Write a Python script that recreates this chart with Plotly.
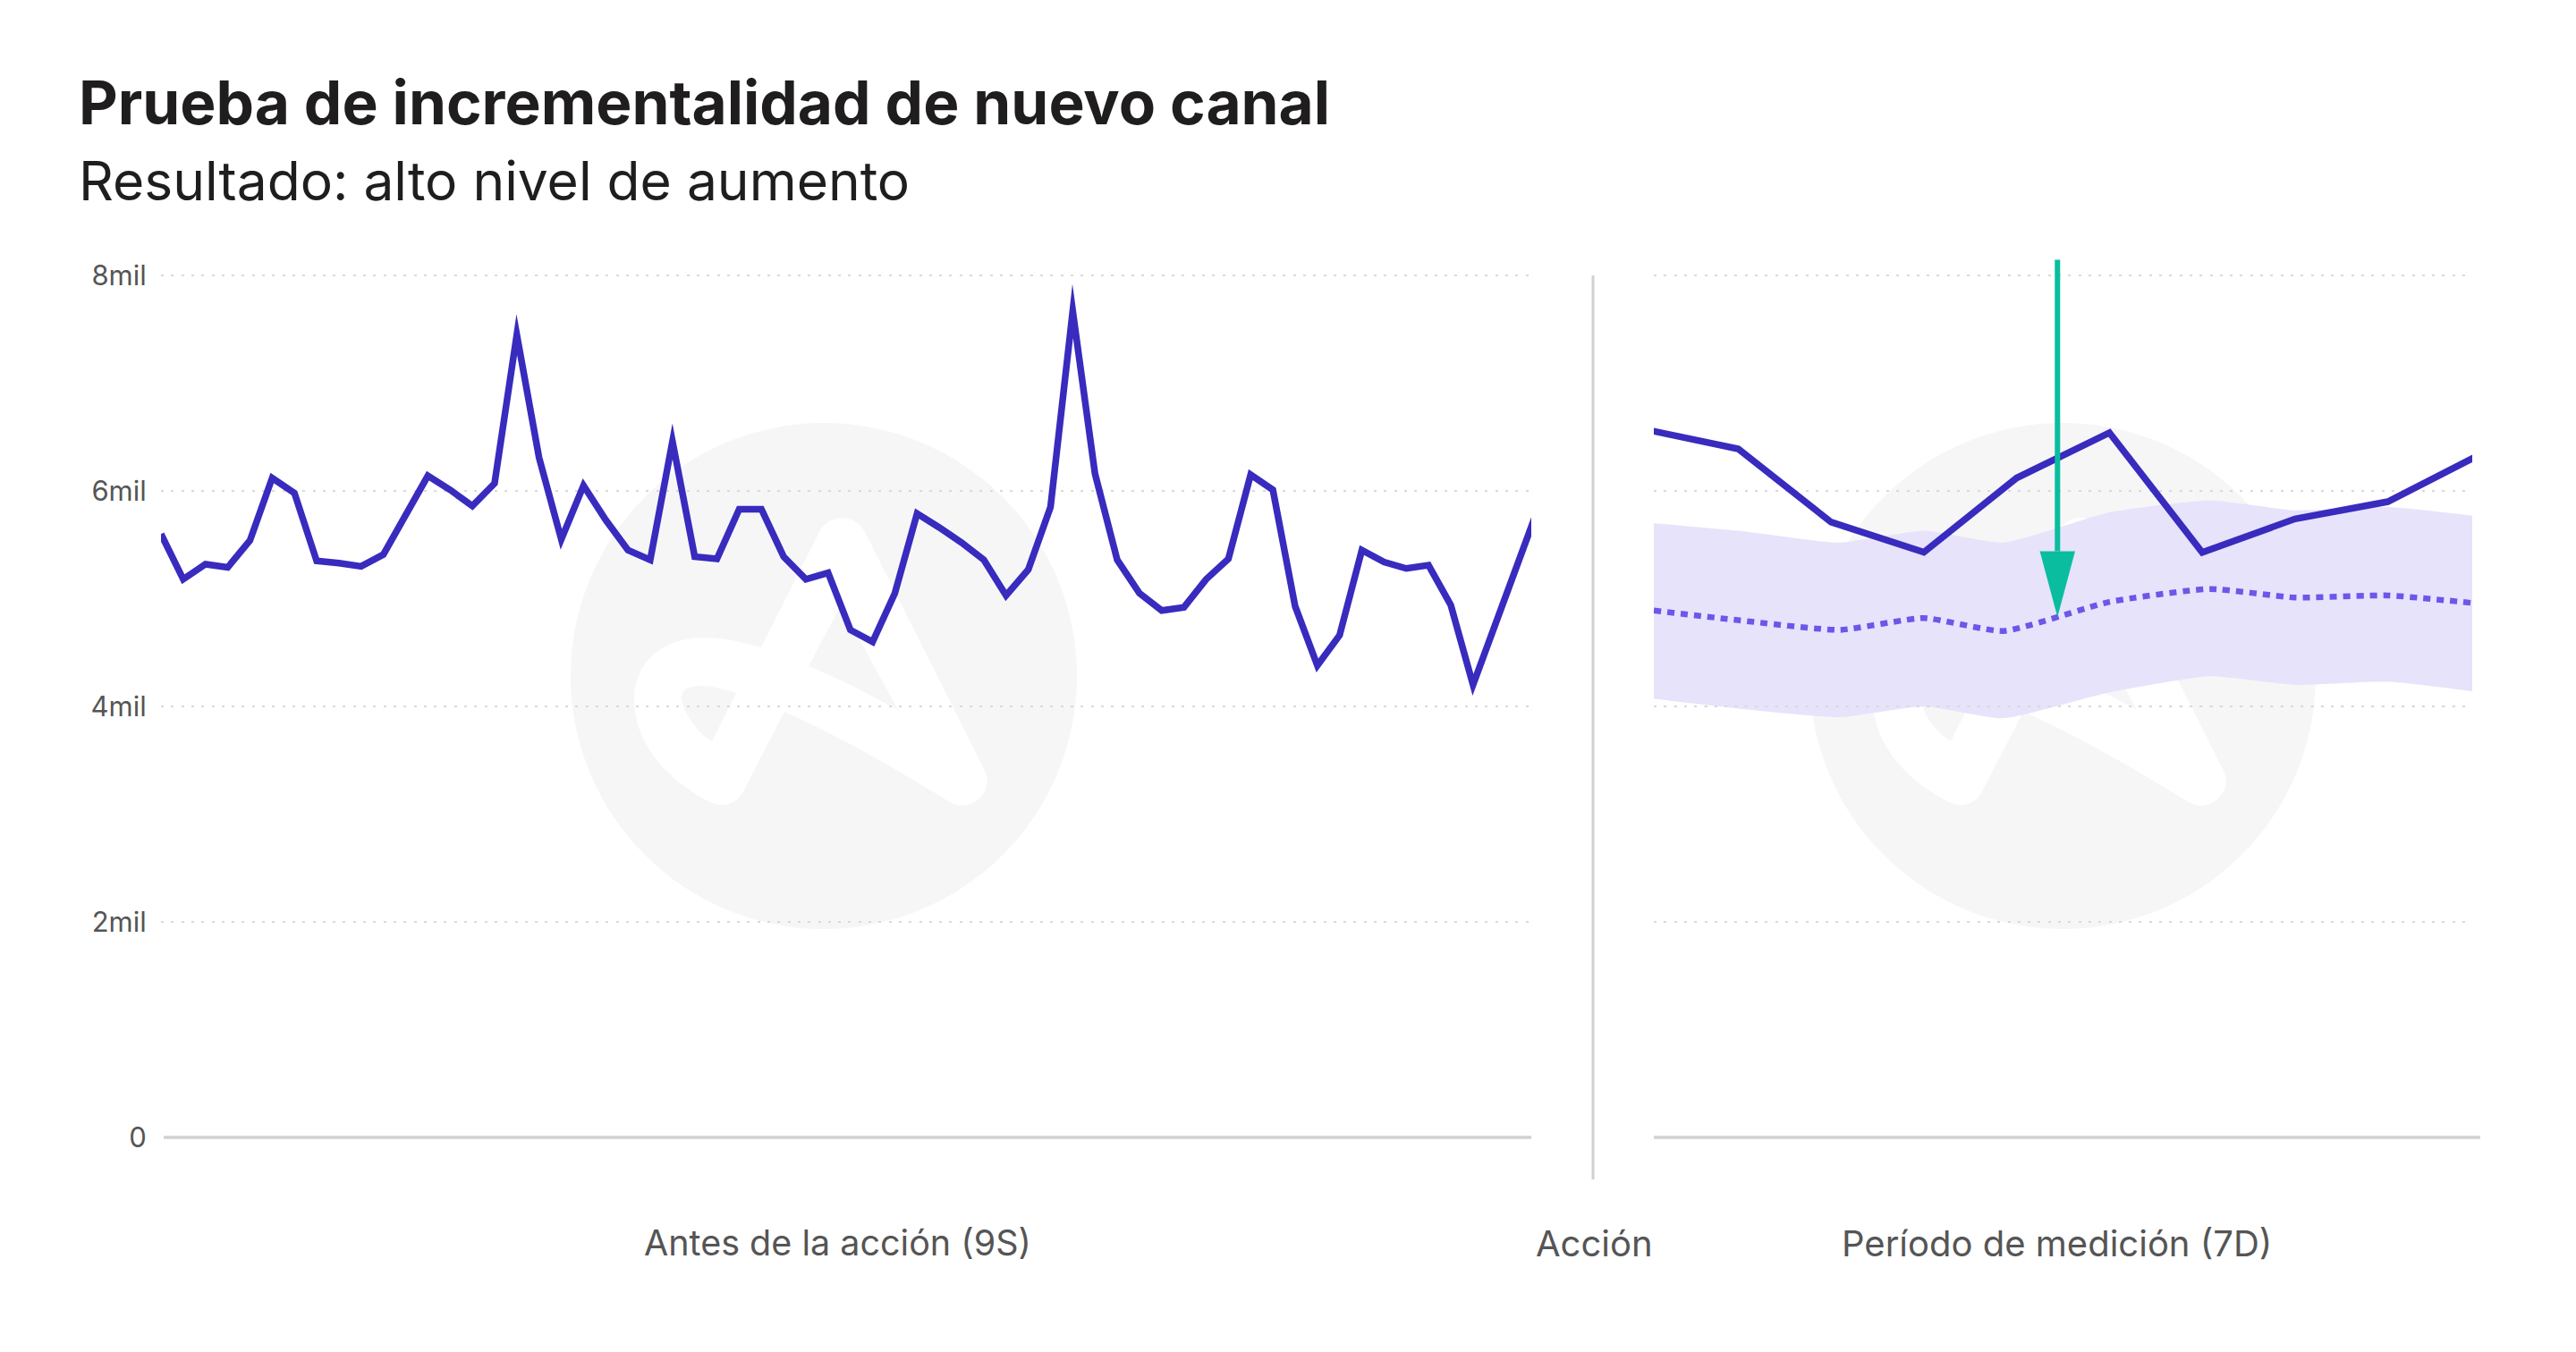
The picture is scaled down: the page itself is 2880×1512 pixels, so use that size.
import plotly.graph_objects as go

W, H = 2880, 1512

# pixel positions
LEFT_X0, LEFT_X1 = 180, 1712
RIGHT_X0, RIGHT_X1 = 1849, 2764
Y_ZERO, Y_TOP = 1272, 284

# Before the action, daily values in thousands (9 weeks)
before_days = list(range(63))
before_values = [
    5.60, 5.18, 5.32, 5.29, 5.54, 6.12, 5.98, 5.35, 5.33, 5.30,
    5.41, 5.77, 6.14, 6.01, 5.86, 6.07, 7.45, 6.31, 5.55, 6.05,
    5.73, 5.45, 5.36, 6.46, 5.39, 5.37, 5.83, 5.83, 5.39, 5.18,
    5.24, 4.71, 4.60, 5.05, 5.79, 5.66, 5.52, 5.36, 5.03, 5.27,
    5.85, 7.67, 6.16, 5.36, 5.05, 4.89, 4.92, 5.18, 5.37, 6.15,
    6.01, 4.93, 4.38, 4.66, 5.45, 5.34, 5.28, 5.31, 4.94, 4.20,
    4.76, 5.33, 5.88,
]

# Measurement period
after_days = list(range(10))
after_values = [6.57, 6.39, 5.71, 5.43, 6.12, 6.54, 5.43, 5.74, 5.90, 6.34]

# Forecast and its band
band_days = [0.09, 1, 2.09, 3, 3.86, 5, 6.08, 7, 8, 8.91]
band_upper = [5.70, 5.63, 5.52, 5.63, 5.52, 5.80, 5.91, 5.82, 5.85, 5.77]
band_lower = [4.07, 3.98, 3.90, 4.00, 3.89, 4.13, 4.28, 4.20, 4.23, 4.14]
forecast = [4.89, 4.80, 4.71, 4.82, 4.70, 4.97, 5.09, 5.01, 5.03, 4.96]

# Arrow from the top of the chart down to the forecast
arrow_day = 4.44
arrow_top = 8.145
arrow_base = 5.44
arrow_tip = 4.83
arrow_head_days = [4.25, 4.63, 4.44, 4.25]

tick_vals = [0, 2, 4, 6, 8]
tick_text = ["0", "2mil", "4mil", "6mil", "8mil"]

FONT = "Inter"
INK = "#1f1d1d"
GREY_TEXT = "#555555"
GRID = "#d9d9d9"
RULE = "#d0d2d2"
LINE = "#382bbe"
DOTS = "#6b57e8"
BAND = "#e6e3fb"
TEAL = "#0abd9e"
LOGO = "#f6f6f6"


def px(x):
    return x / W


def py(y):
    return 1 - y / H


def logo_shapes(cx):
    # logo outline measured around the circle centre, in pixels
    cy = 756

    def path(cmds):
        out = []
        for cmd, pts in cmds:
            coords = " ".join(f"{px(cx + a):.5f},{py(cy + b):.5f}" for a, b in pts)
            out.append(f"{cmd}{coords}")
        return " ".join(out) + " Z"

    body = path([
        ("M", [(-5, -161)]),
        ("C", [(5, -182), (35, -182), (46, -161)]),
        ("L", [(180, 106)]),
        ("C", [(189, 123), (175, 145), (153, 145)]),
        ("C", [(150, 145), (145, 143), (141, 141)]),
        ("C", [(74, 100), (15, 66), (-44, 40)]),
        ("L", [(-90, 129)]),
        ("C", [(-98, 145), (-115, 147), (-127, 141)]),
        ("C", [(-182, 113), (-212, 70), (-212, 26)]),
        ("C", [(-212, -21), (-172, -43), (-135, -43)]),
        ("C", [(-111, -43), (-92, -38), (-70, -32)]),
    ])
    hole_one = path([
        ("M", [(-98, 19)]),
        ("C", [(-125, 10), (-160, 5), (-159, 25)]),
        ("C", [(-157, 42), (-140, 65), (-125, 73)]),
    ])
    hole_two = path([
        ("M", [(-17, -11)]),
        ("L", [(19, -79)]),
        ("L", [(83, 38)]),
        ("C", [(50, 20), (15, 2), (-17, -11)]),
    ])
    base = dict(type="path", xref="paper", yref="paper", layer="below", line_width=0)
    return [
        dict(type="circle", xref="paper", yref="paper", layer="below", line_width=0,
             x0=px(cx - 283), x1=px(cx + 283), y0=py(cy + 283), y1=py(cy - 283),
             fillcolor=LOGO),
        dict(base, path=body, fillcolor="white"),
        dict(base, path=hole_one, fillcolor=LOGO),
        dict(base, path=hole_two, fillcolor=LOGO),
    ]


fig = go.Figure()

fig.add_trace(go.Scatter(x=before_days, y=before_values, mode="lines",
                         line=dict(color=LINE, width=7.5), xaxis="x", yaxis="y"))

fig.add_trace(go.Scatter(x=band_days, y=band_upper, mode="lines",
                         line=dict(width=0, shape="spline", smoothing=0.5),
                         xaxis="x2", yaxis="y2"))
fig.add_trace(go.Scatter(x=band_days, y=band_lower, mode="lines",
                         line=dict(width=0, shape="spline", smoothing=0.5),
                         fill="tonexty", fillcolor=BAND, xaxis="x2", yaxis="y2"))
# the 4mil grid dots stay visible over the band
fig.add_trace(go.Scatter(x=[0.09, 8.91], y=[4, 4], mode="lines",
                         line=dict(color=GRID, width=2, dash="3px,8.3px"),
                         xaxis="x2", yaxis="y2"))
fig.add_trace(go.Scatter(x=band_days, y=forecast, mode="lines",
                         line=dict(color=DOTS, width=6.5, dash="8px,7px", shape="spline", smoothing=0.5),
                         xaxis="x2", yaxis="y2"))
fig.add_trace(go.Scatter(x=after_days, y=after_values, mode="lines",
                         line=dict(color=LINE, width=7.5), xaxis="x2", yaxis="y2"))
fig.add_trace(go.Scatter(x=[arrow_day, arrow_day], y=[arrow_top, arrow_base], mode="lines",
                         line=dict(color=TEAL, width=6), xaxis="x2", yaxis="y2"))
fig.add_trace(go.Scatter(x=arrow_head_days, y=[arrow_base, arrow_base, arrow_tip, arrow_base],
                         mode="lines", line=dict(width=0), fill="toself", fillcolor=TEAL,
                         xaxis="x2", yaxis="y2"))

shapes = logo_shapes(921) + logo_shapes(2306)
shapes += [
    dict(type="line", xref="paper", yref="paper", layer="below",
         x0=px(183), x1=px(1712), y0=py(Y_ZERO), y1=py(Y_ZERO), line=dict(color=RULE, width=3.5)),
    dict(type="line", xref="paper", yref="paper", layer="below",
         x0=px(1849), x1=px(2773), y0=py(Y_ZERO), y1=py(Y_ZERO), line=dict(color=RULE, width=3.5)),
    dict(type="line", xref="paper", yref="paper", layer="below",
         x0=px(1781), x1=px(1781), y0=py(308), y1=py(1319), line=dict(color=RULE, width=3)),
]


def label(text, x, y, size, color, anchor="center"):
    return dict(text=text, x=px(x), y=py(y), xref="paper", yref="paper", showarrow=False,
                xanchor=anchor, yanchor="middle",
                font=dict(family=FONT, size=size, color=color))


annotations = [
    label("<b>Prueba de incrementalidad de nuevo canal</b>", 86, 115, 67.5, INK, "left"),
    label("Resultado: alto nivel de aumento", 86, 202, 60.5, INK, "left"),
    label("Antes de la acción (9S)", 936, 1390, 39.5, GREY_TEXT),
    label("Acción", 1782, 1390, 40, GREY_TEXT),
    label("Período de medición (7D)", 2299, 1390, 40, GREY_TEXT),
]

y_axis = dict(range=[0, (Y_ZERO - Y_TOP) / 120.5], domain=[py(Y_ZERO), py(Y_TOP)],
              tickvals=tick_vals[1:], showgrid=True, gridcolor=GRID, gridwidth=2,
              griddash="3px,8.3px", zeroline=False, showline=False, fixedrange=True,
              automargin=False)

fig.update_layout(
    width=W, height=H, autosize=False,
    margin=dict(l=0, r=0, t=0, b=0, autoexpand=False),
    paper_bgcolor="white", plot_bgcolor="rgba(0,0,0,0)",
    showlegend=False,
    font=dict(family=FONT, color=GREY_TEXT),
    shapes=shapes,
    annotations=annotations,
    xaxis=dict(domain=[px(LEFT_X0), px(LEFT_X1)], range=[0, 61.62], visible=False, automargin=False),
    xaxis2=dict(domain=[px(RIGHT_X0), px(RIGHT_X1)], range=[0.09, 8.91], visible=False, anchor="y2",
                automargin=False),
    yaxis=dict(y_axis, tickvals=tick_vals, ticktext=tick_text, showticklabels=True,
               tickfont=dict(family=FONT, size=31, color=GREY_TEXT),
               ticks="outside", ticklen=9, tickcolor="rgba(0,0,0,0)"),
    yaxis2=dict(y_axis, anchor="x2", showticklabels=False, ticks=""),
)

fig.write_html("out.html", config={"displayModeBar": False},
               post_script="document.body.style.margin = 0;"
                           "document.querySelectorAll('path.js-line').forEach(p => p.style.strokeMiterlimit = 20);")
